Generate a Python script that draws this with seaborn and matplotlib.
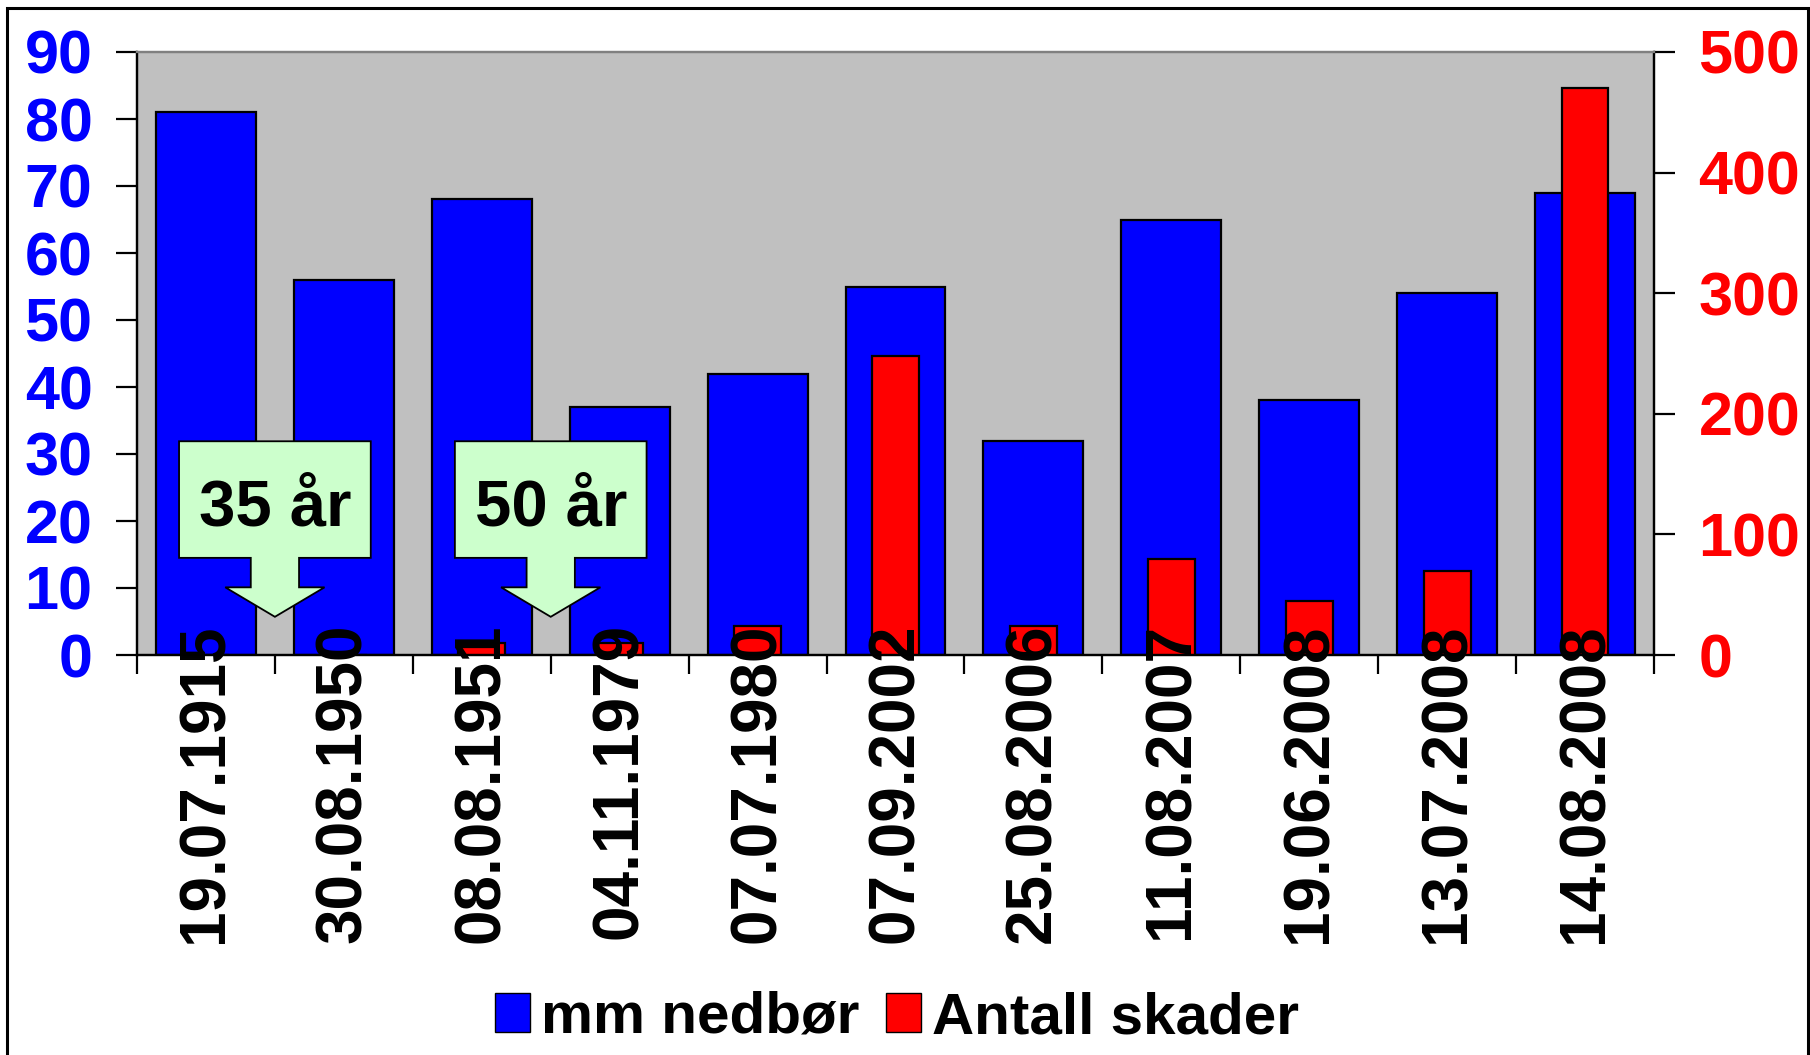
import matplotlib
matplotlib.use('Agg')
import matplotlib.pyplot as plt
from matplotlib.patches import Polygon, Patch, Rectangle
import seaborn as sns
import pandas as pd

dates = ['19.07.1915', '30.08.1950', '08.08.1951', '04.11.1979', '07.07.1980',
         '07.09.2002', '25.08.2006', '11.08.2007', '19.06.2008', '13.07.2008',
         '14.08.2008']
mm_nedbor = [81, 56, 68, 37, 42, 55, 32, 65, 38, 54, 69]
antall_skader = [0, 0, 10, 10, 24, 248, 24, 80, 45, 70, 470]
callout_labels = ['35 år', '50 år']
callout_pos = [0.5, 2.5]

sns.set_theme(style='ticks')
NARROW = ['Liberation Sans Narrow', 'Liberation Sans', 'DejaVu Sans']
WIDE = ['Liberation Sans', 'DejaVu Sans']
plt.rcParams['font.family'] = NARROW
plt.rcParams['font.weight'] = 'bold'
plt.rcParams['text.color'] = 'black'

df = pd.DataFrame({'dato': dates, 'mm': mm_nedbor, 'skader': antall_skader})

fig, ax = plt.subplots(figsize=(18.1, 10.55), dpi=100)
fig.subplots_adjust(left=137 / 1810, right=1654 / 1810, top=1 - 52 / 1055, bottom=1 - 655 / 1055)
ax.set_facecolor('#C0C0C0')

sns.barplot(data=df, x='dato', y='mm', ax=ax, color='#0000FF', saturation=1,
            width=0.725, edgecolor='black', linewidth=1.6)
ax2 = ax.twinx()
sns.barplot(data=df, x='dato', y='skader', ax=ax2, color='#FF0000', saturation=1,
            width=0.34, edgecolor='black', linewidth=1.6)

# callout arrows (drawn in left-axis units, on top of both bar sets)
for xc, lab in zip(callout_pos, callout_labels):
    pts = [(xc - 0.695, 31.9), (xc + 0.695, 31.9), (xc + 0.695, 14.5),
           (xc + 0.175, 14.5), (xc + 0.175, 10.1), (xc + 0.36, 10.1),
           (xc, 5.7), (xc - 0.36, 10.1), (xc - 0.175, 10.1),
           (xc - 0.175, 14.5), (xc - 0.695, 14.5)]
    ax2.add_patch(Polygon(pts, closed=True, facecolor='#CCFFCC', edgecolor='black',
                          linewidth=1.3, transform=ax.transData, zorder=5))
    ax2.text(xc, 19.4, lab, transform=ax.transData, ha='center', va='baseline',
             fontsize=47, family=WIDE, weight='bold', color='black', zorder=6)

ax.set_xlim(-0.5, 10.5)
ax.set_ylim(0, 90)
ax2.set_ylim(0, 500)
ax.set_yticks(range(0, 91, 10))
ax2.set_yticks(range(0, 501, 100))
for a in (ax, ax2):
    a.set_xlabel('')
    a.set_ylabel('')

# labels at the bar centres, tick marks between categories
ax.set_xticks(range(len(dates)))
ax.set_xticklabels(dates)
ax.set_xticks([i - 0.5 for i in range(len(dates) + 1)], minor=True)
ax.tick_params(axis='x', which='major', length=0, labelbottom=False)
ax.tick_params(axis='x', which='minor', length=14, width=1.6, color='black', direction='out')
ax2.xaxis.set_visible(True)
ax2.xaxis.set_zorder(10)  # date labels sit on top of the bars
ax2.tick_params(axis='x', which='major', length=0, labelbottom=True, pad=-23,
                labelrotation=90, labelsize=46, labelcolor='black')
ax2.tick_params(axis='x', which='minor', length=0)
for lbl in ax2.get_xticklabels():
    lbl.set_family(WIDE)
    lbl.set_weight('bold')

ax.tick_params(axis='y', length=15, width=1.6, pad=17, labelsize=44,
               labelcolor='#0000FF', color='black', direction='out')
ax2.tick_params(axis='y', length=15, width=1.6, pad=17, labelsize=44,
                labelcolor='#FF0000', color='black', direction='out')

for a in (ax, ax2):
    for s in a.spines.values():
        s.set_linewidth(1.6)
        s.set_color('black')
    a.spines['top'].set_color('#808080')
    a.grid(False)

leg = fig.legend(handles=[Patch(facecolor='#0000FF', edgecolor='black', label='mm nedbør'),
                          Patch(facecolor='#FF0000', edgecolor='black', label='Antall skader')],
                 loc='center', bbox_to_anchor=(897 / 1810, 1 - 1018 / 1055), ncol=2,
                 frameon=False, prop={'family': NARROW, 'weight': 'bold', 'size': 42},
                 handlelength=0.6, handleheight=0.65, handletextpad=0.2, columnspacing=0.45)
for t in leg.get_texts():
    t.set_color('black')

# chart border
fig.patches.append(Rectangle((7 / 1810, -0.1), 1801 / 1810, 1.1 - 7.5 / 1055,
                             transform=fig.transFigure, fill=False,
                             edgecolor='black', linewidth=2.2))

fig.savefig('out.png', dpi=100)
